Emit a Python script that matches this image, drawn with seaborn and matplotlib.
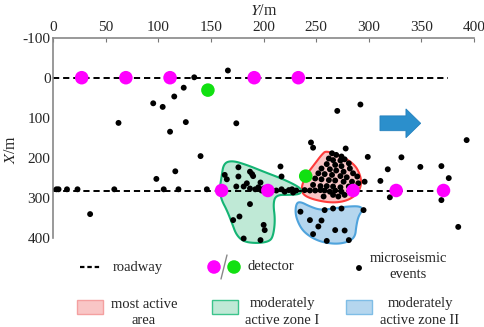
import numpy as np
import pandas as pd
import seaborn as sns
import matplotlib.pyplot as plt
import matplotlib.patches as mpatches

# microseismic events, Y (horizontal, m) and X (vertical, m)
# scattered events outside the zones
out_y = [134, 166, 124, 115, 95, 104, 62, 126, 111, 140, 116, 98, 35, 174,
         3, 5, 13, 23, 58, 105, 119, 146,
         270, 292, 393, 245, 247, 278, 299, 331, 318, 349, 369, 376, 385,
         311, 320, 369, 296]
out_x = [-1, -18, 25, 47, 64, 73, 113, 111, 135, 196, 234, 253, 341, 114,
         279, 279, 279, 279, 279, 279, 279, 279,
         83, 67, 156, 162, 175, 177, 198, 199, 229, 223, 221, 251, 373,
         258, 299, 306, 260]
# most active area
red_y = [265, 269, 274, 262, 266, 273, 277, 281, 260, 268, 274, 282, 255, 263,
         269, 276, 285, 252, 258, 265, 273, 279, 289, 249, 255, 262, 268, 276,
         284, 290, 247, 254, 260, 266, 273, 281, 287, 239, 244, 249, 254, 258,
         263, 268, 274, 257, 266, 271, 277]
red_x = [189, 193, 197, 202, 206, 207, 204, 214, 216, 218, 221, 227, 227, 229,
         232, 235, 239, 239, 241, 243, 246, 249, 247, 252, 254, 256, 257, 260,
         260, 264, 268, 271, 271, 272, 274, 272, 277, 281, 282, 282, 281, 282,
         285, 282, 285, 297, 293, 297, 293]
# moderately active zone I
grn_y = [176, 163, 165, 176, 187, 189, 190, 197, 184, 174, 181, 187, 192, 195,
         198, 200, 216, 217, 212, 217, 220, 224, 227, 228, 231, 187, 177, 171,
         200, 201, 181, 197]
grn_x = [224, 243, 254, 247, 235, 241, 246, 262, 264, 272, 272, 277, 279, 274,
         282, 277, 222, 247, 282, 279, 285, 281, 279, 287, 282, 316, 347, 356,
         368, 381, 402, 406]
# moderately active zone II
blu_y = [235, 244, 255, 252, 268, 247, 260, 277, 281, 266, 274, 258, 295]
blu_x = [335, 356, 357, 372, 381, 391, 408, 382, 406, 327, 327, 331, 331]

# detectors
det_mag_y = [27, 69, 111, 191, 233, 160, 204, 285, 326, 371]
det_mag_x = [0, 0, 0, 0, 0, 282, 282, 282, 282, 282]
det_grn_y = [147, 240]
det_grn_x = [31, 246]

# roadways (Y range, X level)
road_y = [0, 375]
road_levels = [0, 283]

# zone outlines (Y, X)
zone_red = [(260, 181), (285, 210), (293, 248), (292, 281), (282, 306), (265, 314),
            (243, 302), (235, 285), (239, 248), (249, 214), (255, 193)]
zone_grn = [(162, 214), (170, 207), (184, 218), (200, 235), (217, 252), (230, 268),
            (236, 279), (235, 291), (225, 293), (212, 293), (209, 314), (211, 356),
            (209, 397), (205, 410), (193, 414), (181, 410), (174, 393), (170, 364),
            (165, 331), (160, 306), (158, 281), (160, 247)]
zone_blu = [(231, 314), (235, 310), (244, 322), (254, 331), (266, 327), (279, 322),
            (292, 321), (294, 331), (290, 347), (288, 372), (287, 397), (281, 410),
            (270, 416), (257, 412), (247, 402), (238, 385), (233, 364), (230, 339)]

y_ticks = [0, 50, 100, 150, 200, 250, 300, 350, 400]
x_ticks = [-100, 0, 100, 200, 300, 400]


def smooth(pts, n=3):
    p = np.array(pts, float)
    for _ in range(n):
        q = np.roll(p, -1, axis=0)
        new = np.empty((2 * len(p), 2))
        new[0::2] = 0.75 * p + 0.25 * q
        new[1::2] = 0.25 * p + 0.75 * q
        p = new
    return p


sns.set_style("white")
plt.rcParams['font.family'] = ['Liberation Serif', 'DejaVu Serif']
plt.rcParams['mathtext.fontset'] = 'stix'
plt.rcParams['axes.unicode_minus'] = False

fig = plt.figure(figsize=(4.84, 3.27), dpi=100)
ax = fig.add_axes([53.3 / 484, 1 - 237.7 / 327, 420.7 / 484, 200 / 327])

# zones
zones = [(zone_red, '#f9c6c6', '#ff3b3b'),
         (zone_grn, '#bfe9d6', '#14b474'),
         (zone_blu, '#b5d6ee', '#4fa3dc')]
for pts, fc, ec in zones:
    s = smooth(pts)
    ax.fill(s[:, 0], s[:, 1], facecolor=fc, edgecolor=ec, lw=1.5,
            zorder=1, clip_on=False)

# roadways
for lv in road_levels:
    ax.plot(road_y, [lv, lv], color='black', lw=1.4, ls=(0, (3.2, 2.0)), zorder=2)

ev = pd.DataFrame({
    'Y': out_y + red_y + grn_y + blu_y,
    'X': out_x + red_x + grn_x + blu_x,
})
sns.scatterplot(data=ev, x='Y', y='X', ax=ax, color='black', s=18,
                edgecolor='none', zorder=3, clip_on=False)

dm = pd.DataFrame({'Y': det_mag_y, 'X': det_mag_x})
dg = pd.DataFrame({'Y': det_grn_y, 'X': det_grn_x})
sns.scatterplot(data=dm, x='Y', y='X', ax=ax, color='#ff00ff', s=95,
                edgecolor='none', zorder=4, clip_on=False)
sns.scatterplot(data=dg, x='Y', y='X', ax=ax, color='#11e011', s=95,
                edgecolor='none', zorder=4, clip_on=False)

# direction arrow
ax.add_patch(mpatches.FancyArrow(310.6, 114, 38.7, 0, width=37, head_width=72,
                                 head_length=14, length_includes_head=True,
                                 facecolor='#2b8fcc', edgecolor='#2380bd',
                                 lw=0.6, zorder=2))

ax.set_xlim(0, 400)
ax.set_ylim(400, -100)
ax.set_xticks(y_ticks)
ax.set_yticks(x_ticks)
ax.xaxis.tick_top()
ax.xaxis.set_label_position('top')
ax.tick_params(axis='x', direction='in', length=3, pad=3, labelsize=11,
               color='#777777', top=True, bottom=False)
ax.tick_params(axis='y', direction='in', length=3, pad=2, labelsize=11,
               color='#777777')
for side in ['right', 'bottom']:
    ax.spines[side].set_visible(False)
for side in ['left', 'top']:
    ax.spines[side].set_color('#888888')
    ax.spines[side].set_linewidth(1.2)
ax.set_xlabel('$Y$/m', fontsize=11.5, labelpad=4)
ax.set_ylabel('$X$/m', fontsize=11.5)
ax.yaxis.set_label_coords(-0.082, 0.44)

# legend drawn in pixel space
lax = fig.add_axes([0, 0, 1, 1])
lax.set_xlim(0, 484)
lax.set_ylim(327, 0)
lax.axis('off')
lax.plot([80, 101], [267, 267], color='black', lw=1.6, ls=(0, (2.0, 1.3)))
lax.text(113, 267, 'roadway', fontsize=10.5, va='center', ha='left')
lax.scatter([214], [267], s=95, color='#ff00ff', edgecolor='none')
lax.scatter([234], [267], s=95, color='#11e011', edgecolor='none')
lax.plot([221, 227], [279, 255], color='#888888', lw=1)
lax.text(247, 267, 'detector', fontsize=10.5, va='center', ha='left')
lax.scatter([359], [268], s=18, color='black', edgecolor='none')
lax.text(408, 266, 'microseismic\nevents', fontsize=10.5, va='center',
         ha='center', linespacing=1.3)

legend_items = [(77, '#f9c6c6', '#f4a0a0', 144, 'most active\narea'),
                (212, '#bfe9d6', '#3cc48c', 282, 'moderately\nactive zone I'),
                (346, '#b5d6ee', '#7fbde6', 420, 'moderately\nactive zone II')]
for px, fc, ec, tx, label in legend_items:
    lax.add_patch(mpatches.Rectangle((px, 299.5), 26, 14.5, facecolor=fc,
                                     edgecolor=ec, lw=1))
    lax.text(tx, 312, label, fontsize=10.5, va='center', ha='center',
             linespacing=1.3)

fig.savefig('out.png', dpi=100)
